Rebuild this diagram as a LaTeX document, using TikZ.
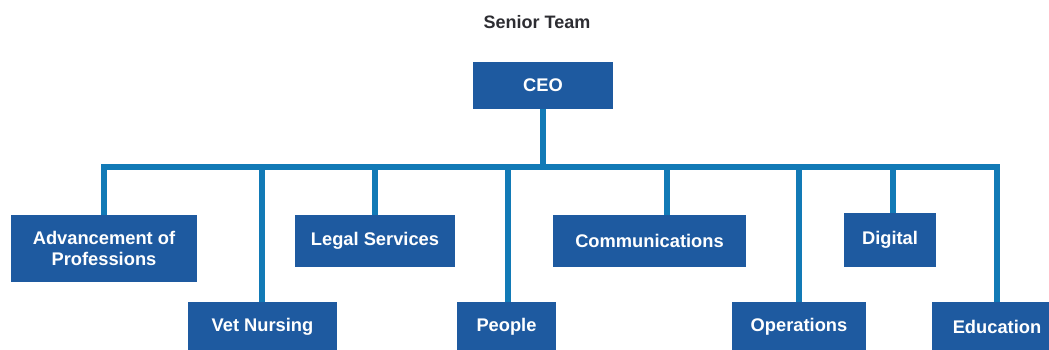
\documentclass[tikz,border=0pt]{standalone}
\usepackage{fontspec}
\setmainfont{Liberation Sans}
\definecolor{boxblue}{RGB}{30,90,160}
\definecolor{lineblue}{RGB}{18,122,182}
\definecolor{titlegray}{RGB}{45,45,50}
\begin{document}
\begin{tikzpicture}[x=1pt,y=-1pt,
  unit/.style={fill=boxblue,draw=none,inner sep=0pt,text=white,align=center,
    font=\fontsize{18.3}{21.5}\selectfont\bfseries},
  conn/.style={draw=lineblue,line width=5.5pt,line join=miter}]
\useasboundingbox (0,0) rectangle (1049,350);
\clip (0,0) rectangle (1049,350);
\node[font=\fontsize{18}{21}\selectfont\bfseries,text=titlegray] (title) at (537,22) {Senior Team};
\node[unit,minimum width=140pt,minimum height=47pt] (ceo) at (543,85.5) {CEO};
\node[unit,minimum width=186pt,minimum height=67pt] (adv) at (104,248.5) {Advancement of\\Professions};
\node[unit,minimum width=149pt,minimum height=50pt] (vet) at (262.5,327) {Vet Nursing};
\node[unit,minimum width=160pt,minimum height=52pt] (legal) at (375,241) {Legal Services};
\node[unit,minimum width=99pt,minimum height=50pt] (people) at (506.5,327) {People};
\node[unit,minimum width=193pt,minimum height=52pt] (comm) at (649.5,241) {Communications};
\node[unit,minimum width=134pt,minimum height=50pt] (ops) at (799,327) {Operations};
\node[unit,minimum width=92pt,minimum height=54pt] (digital) at (890,240) {Digital};
\node[unit,minimum width=130pt,minimum height=50pt] (edu) at (997,327) {Education};
\coordinate (bc) at (543,167);
\coordinate (b1) at (104,167);
\coordinate (b2) at (262,167);
\coordinate (b3) at (375,167);
\coordinate (b4) at (508,167);
\coordinate (b5) at (667,167);
\coordinate (b6) at (799,167);
\coordinate (b7) at (893,167);
\coordinate (b8) at (997,167);
\draw[conn] (ceo.south) -- (bc);
\draw[conn] (adv.north -| b1) -- (b1) -- (b8) -- (edu.north -| b8);
\draw[conn] (b2) -- (vet.north -| b2);
\draw[conn] (b3) -- (legal.north -| b3);
\draw[conn] (b4) -- (people.north -| b4);
\draw[conn] (b5) -- (comm.north -| b5);
\draw[conn] (b6) -- (ops.north -| b6);
\draw[conn] (b7) -- (digital.north -| b7);
\end{tikzpicture}
\end{document}
